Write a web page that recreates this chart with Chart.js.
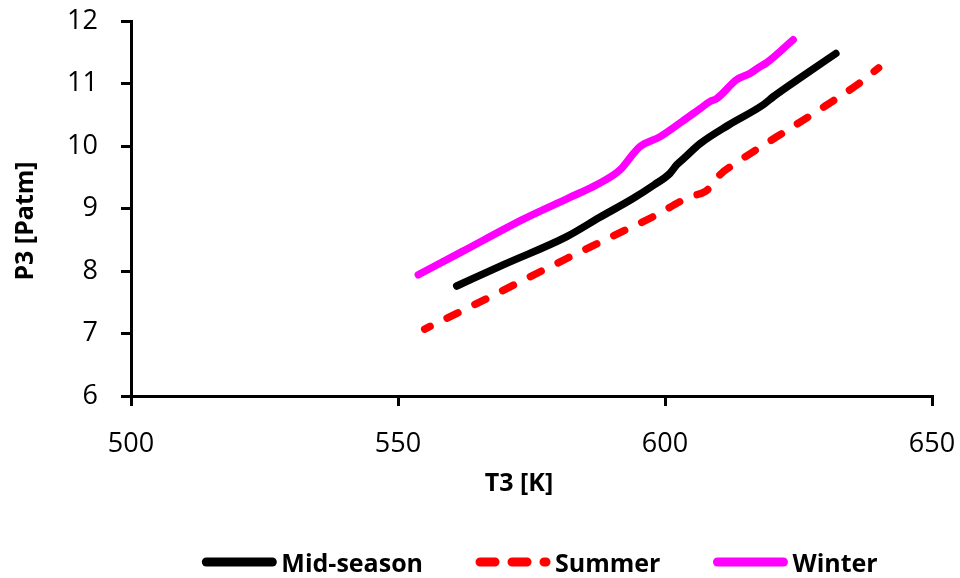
<!DOCTYPE html>
<html>
<head>
<meta charset="utf-8">
<title>P3 vs T3</title>
<script src="https://cdn.jsdelivr.net/npm/chart.js@4/dist/chart.umd.min.js"></script>
<style>
  html, body { margin: 0; padding: 0; background: #ffffff; }
  #wrap { width: 960px; height: 578px; }
</style>
</head>
<body>
<div id="wrap"><canvas id="chart" width="960" height="578"></canvas></div>
<script>
// Compressor outlet pressure P3 against temperature T3 for three seasons
const seriesNames = ['Mid-season', 'Summer', 'Winter'];

const midSeasonT = [561, 570, 581.6, 587.8, 594, 598, 600.9, 602.2, 603.5, 606.6, 612, 618.4, 620.3, 626, 632];
const midSeasonP = [7.76, 8.11, 8.55, 8.86, 9.16, 9.38, 9.56, 9.70, 9.80, 10.04, 10.34, 10.66, 10.79, 11.13, 11.48];

const summerT = [555, 565, 581.6, 590, 597.8, 604.7, 607.5, 609.1, 610.3, 612.8, 618, 623.4, 630, 636, 640];
const summerP = [7.07, 7.49, 8.20, 8.55, 8.87, 9.19, 9.27, 9.40, 9.54, 9.70, 9.99, 10.28, 10.64, 10.98, 11.25];

const winterT = [553.8, 562, 573.5, 582, 587.2, 591.6, 594.1, 595.3, 599.1, 603, 606.6, 608.4, 609.7, 613.4, 615.9, 617.8, 619, 624];
const winterP = [7.94, 8.31, 8.83, 9.17, 9.38, 9.62, 9.88, 9.99, 10.15, 10.38, 10.60, 10.71, 10.76, 11.06, 11.16, 11.27, 11.33, 11.70];

const xTicks = [500, 550, 600, 650];
const yTicks = [6, 7, 8, 9, 10, 11, 12];

const toPoints = (xs, ys) => xs.map((x, i) => ({ x: x, y: ys[i] }));

const FONT = '"Open Sans", "Noto Sans", "Liberation Sans", sans-serif';

// Legend drawn underneath the plot: line sample followed by the series name
const bottomLegend = {
  id: 'bottomLegend',
  afterDraw(chart) {
    const ctx = chart.ctx;
    const sampleW = 74, gapText = 5, gapItem = 53, baseY = 572, lineY = 562;
    ctx.save();
    ctx.font = 'bold 25px ' + FONT;
    const items = chart.data.datasets.map(ds => ({
      ds: ds,
      w: sampleW + gapText + ctx.measureText(ds.label).width
    }));
    const total = items.reduce((s, it) => s + it.w, 0) + gapItem * (items.length - 1);
    let x = 540 - total / 2;
    items.forEach(it => {
      const ds = it.ds;
      ctx.strokeStyle = ds.borderColor;
      ctx.lineWidth = 9;
      ctx.lineCap = 'round';
      ctx.setLineDash(ds.borderDash && ds.borderDash.length ? [15, 17] : []);
      ctx.beginPath();
      ctx.moveTo(x + 4, lineY);
      ctx.lineTo(x + sampleW - 4, lineY);
      ctx.stroke();
      ctx.setLineDash([]);
      ctx.fillStyle = '#000000';
      ctx.textAlign = 'left';
      ctx.textBaseline = 'alphabetic';
      ctx.fillText(ds.label, x + sampleW + gapText, baseY);
      x += it.w + gapItem;
    });
    ctx.restore();
  }
};

// Axis titles
const axisTitles = {
  id: 'axisTitles',
  afterDraw(chart) {
    const ctx = chart.ctx;
    ctx.save();
    ctx.font = 'bold 25px ' + FONT;
    ctx.fillStyle = '#000000';
    ctx.textAlign = 'center';
    ctx.textBaseline = 'alphabetic';
    ctx.fillText('T3 [K]', 519, 491);
    ctx.translate(33, 221);
    ctx.rotate(-Math.PI / 2);
    ctx.fillText('P3 [Patm]', 0, 0);
    ctx.restore();
  }
};

const lineStyle = {
  showLine: true,
  pointRadius: 0,
  pointHoverRadius: 0,
  borderWidth: 7.5,
  borderCapStyle: 'round',
  borderJoinStyle: 'round',
  cubicInterpolationMode: 'monotone',
  fill: false
};

new Chart(document.getElementById('chart'), {
  type: 'scatter',
  data: {
    datasets: [
      Object.assign({}, lineStyle, {
        label: seriesNames[0],
        data: toPoints(midSeasonT, midSeasonP),
        borderColor: '#000000',
        backgroundColor: '#000000'
      }),
      Object.assign({}, lineStyle, {
        label: seriesNames[1],
        data: toPoints(summerT, summerP),
        borderColor: '#ff0000',
        backgroundColor: '#ff0000',
        borderDash: [12, 19],
        borderDashOffset: 6
      }),
      Object.assign({}, lineStyle, {
        label: seriesNames[2],
        data: toPoints(winterT, winterP),
        borderColor: '#ff00ff',
        backgroundColor: '#ff00ff'
      })
    ]
  },
  options: {
    responsive: false,
    devicePixelRatio: 1,
    animation: false,
    layout: { padding: { left: 0, right: 28, top: 21, bottom: 0 } },
    plugins: {
      legend: { display: false },
      tooltip: { enabled: false },
      title: { display: false }
    },
    scales: {
      x: {
        type: 'linear',
        min: xTicks[0],
        max: xTicks[xTicks.length - 1],
        afterBuildTicks: s => { s.ticks = xTicks.map(v => ({ value: v })); },
        afterFit: s => { s.height = 182; s.paddingLeft = 0; s.paddingRight = 0; },
        border: { display: true, color: '#000000', width: 3 },
        grid: { display: true, drawOnChartArea: false, drawTicks: true, tickLength: 10, color: '#000000', lineWidth: 3 },
        ticks: { color: '#000000', font: { family: FONT, size: 27 }, padding: 22, maxRotation: 0 }
      },
      y: {
        type: 'linear',
        min: yTicks[0],
        max: yTicks[yTicks.length - 1],
        afterBuildTicks: s => { s.ticks = yTicks.map(v => ({ value: v })); },
        afterFit: s => { s.width = 131; s.paddingTop = 0; s.paddingBottom = 0; },
        border: { display: true, color: '#000000', width: 3 },
        grid: { display: true, drawOnChartArea: false, drawTicks: true, tickLength: 10, color: '#000000', lineWidth: 3 },
        ticks: { color: '#000000', font: { family: FONT, size: 27 }, padding: 23 }
      }
    }
  },
  plugins: [bottomLegend, axisTitles]
});
</script>
</body>
</html>
